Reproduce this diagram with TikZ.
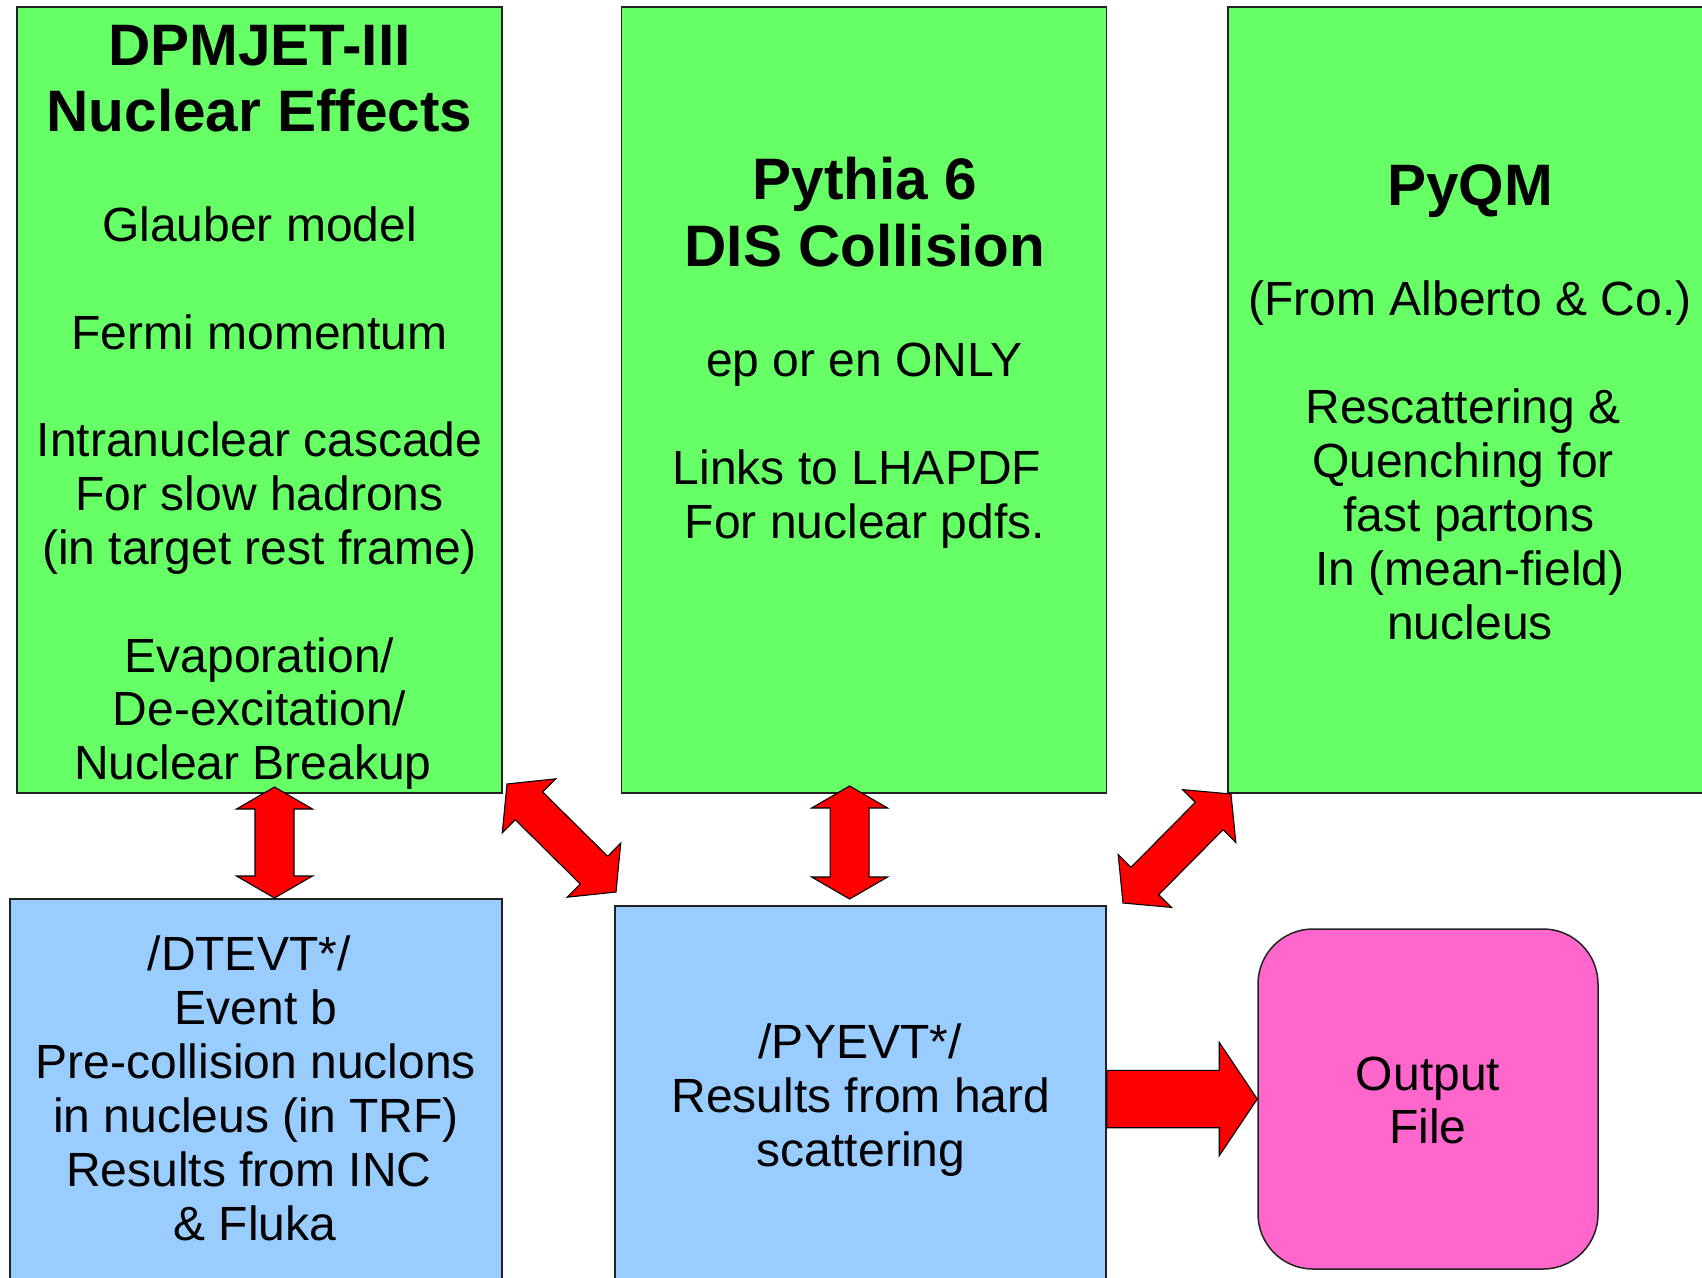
\documentclass[tikz,border=0pt]{standalone}
\usepackage{fontspec}
\setmainfont{Liberation Sans}
\usetikzlibrary{calc}
\definecolor{boxgreen}{HTML}{66FF66}
\definecolor{boxblue}{HTML}{99CCFF}
\definecolor{boxpink}{HTML}{FF66CC}
\definecolor{arrowred}{HTML}{FF0000}
\definecolor{edgegray}{HTML}{222222}
% tip A, tip B, head length, head half width, shaft half width
\newcommand\blockdarrow[5]{%
  \filldraw[redarrow] (#1) -- ($(#1)!#3!(#2)!#4!90:(#2)$) -- ($(#1)!#3!(#2)!#5!90:(#2)$)
   -- ($(#2)!#3!(#1)!#5!-90:(#1)$) -- ($(#2)!#3!(#1)!#4!-90:(#1)$) -- (#2)
   -- ($(#2)!#3!(#1)!#4!90:(#1)$) -- ($(#2)!#3!(#1)!#5!90:(#1)$)
   -- ($(#1)!#3!(#2)!#5!-90:(#2)$) -- ($(#1)!#3!(#2)!#4!-90:(#2)$) -- cycle;}
% tail T, tip B, head length, shaft half width, head half width
\newcommand\blocksarrow[5]{%
  \filldraw[redarrow] ($(#1)!#4!90:(#2)$) -- ($(#2)!#3!(#1)!#4!-90:(#1)$)
   -- ($(#2)!#3!(#1)!#5!-90:(#1)$) -- (#2) -- ($(#2)!#3!(#1)!#5!90:(#1)$)
   -- ($(#2)!#3!(#1)!#4!90:(#1)$) -- ($(#1)!#4!-90:(#2)$) -- cycle;}
\begin{document}
\begin{tikzpicture}[x=1pt,y=-1pt,
  boxbase/.style={draw=edgegray,line width=1.5pt,inner sep=0pt,rectangle},
  gbox/.style={boxbase,fill=boxgreen,minimum width=485pt,minimum height=786pt},
  bbox/.style={boxbase,fill=boxblue,minimum height=420pt},
  pbox/.style={boxbase,fill=boxpink,rounded corners=55pt,minimum width=340pt,minimum height=340pt},
  redarrow/.style={fill=arrowred,draw=black,line width=1.1pt,line join=miter},
  txt/.style={font=\fontsize{48}{55}\selectfont,inner sep=0pt,anchor=base},
  ttl/.style={font=\fontsize{58.5}{66}\selectfont\bfseries,inner sep=0pt,anchor=base}]
\useasboundingbox (0,0) rectangle (1702,1277);
\clip (0,0) rectangle (1702,1277);
\fill[white] (0,0) rectangle (1702,1277);

% boxes
\node[gbox] (dpm) at (259.5,400) {};
\node[gbox] (pyt) at (864,400) {};
\node[gbox] (pyqm) at (1470.5,400) {};
\node[bbox,minimum width=492pt] (dtevt) at (256,1109) {};
\node[bbox,minimum width=491pt] (pyevt) at (860.5,1116) {};
\node[pbox] (out) at (1428,1099) {};

% DPMJET box text
\node[ttl] (t11) at (259.5,65) {DPMJET-III};
\node[ttl] (t12) at (259.5,131.5) {Nuclear Effects};
\node[txt] (t13) at (259.5,241.2) {Glauber model};
\node[txt] (t14) at (259.5,349.3) {Fermi momentum};
\node[txt] (t15) at (259.5,456.9) {Intranuclear cascade};
\node[txt] (t16) at (259.5,510.7) {For slow hadrons};
\node[txt] (t17) at (259.5,564.5) {(in target rest frame)};
\node[txt] (t18) at (259.5,672.1) {Evaporation/};
\node[txt] (t19) at (259.5,725.9) {De-excitation/};
\node[txt] (t110) at (253,779.7) {Nuclear Breakup};

% Pythia box text
\node[ttl] (t21) at (865,199.5) {Pythia 6};
\node[ttl] (t22) at (865,266) {DIS Collision};
\node[txt] (t23) at (864.5,376) {ep or en ONLY};
\node[txt] (t24) at (857,484) {Links to LHAPDF};
\node[txt] (t25) at (865,538) {For nuclear pdfs.};

% PyQM box text
\node[ttl] (t31) at (1470,205) {PyQM};
\node[txt] (t32) at (1470,315) {(From Alberto \& Co.)};
\node[txt] (t33) at (1463,423) {Rescattering \&};
\node[txt] (t34) at (1463,477) {Quenching for};
\node[txt] (t35) at (1469,531) {fast partons};
\node[txt] (t36) at (1470,585) {In (mean-field)};
\node[txt] (t37) at (1470,639) {nucleus};

% DTEVT box text
\node[txt] (t41) at (249,970) {/DTEVT*/};
\node[txt] (t42) at (256,1024) {Event b};
\node[txt] (t43) at (256,1078) {Pre-collision nuclons};
\node[txt] (t44) at (256,1132) {in nucleus (in TRF)};
\node[txt] (t45) at (249,1186) {Results from INC};
\node[txt] (t46) at (255,1240) {\& Fluka};

% PYEVT box text
\node[txt] (t51) at (860,1058) {/PYEVT*/};
\node[txt] (t52) at (861,1112) {Results from hard};
\node[txt] (t53) at (861,1166) {scattering};

% Output text
\node[txt] (t61) at (1428,1090) {Output};
\node[txt] (t62) at (1428,1143) {File};

% arrow end points
\coordinate (a1t) at (274.5,787);
\coordinate (a1b) at (274.5,898);
\coordinate (a2t) at (849.6,786);
\coordinate (a2b) at (849.6,899);
\coordinate (a3t) at (507,784);
\coordinate (a3b) at (616,892);
\coordinate (a4t) at (1231,794);
\coordinate (a4b) at (1123,903);
\coordinate (a5s) at (pyevt.east |- out.west);

\blockdarrow{a1t}{a1b}{22pt}{38pt}{19.5pt}
\blockdarrow{a2t}{a2b}{22pt}{38pt}{19.5pt}
\blockdarrow{a3t}{a3b}{31pt}{38pt}{19.5pt}
\blockdarrow{a4t}{a4b}{31pt}{37.5pt}{19.5pt}
\blocksarrow{a5s}{out.west}{38pt}{28.7pt}{56.7pt}
\end{tikzpicture}
\end{document}
